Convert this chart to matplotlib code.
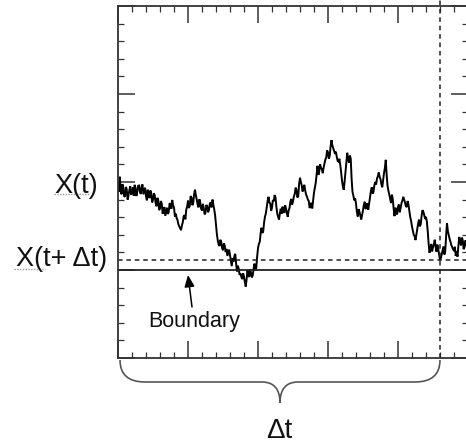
import numpy as np
import matplotlib
matplotlib.use("Agg")
import matplotlib.pyplot as plt
from matplotlib.path import Path
from matplotlib.patches import PathPatch
from matplotlib.ticker import MultipleLocator, NullFormatter

plt.rcParams['font.family'] = ['Liberation Sans', 'DejaVu Sans']

# ---- data ----
# time index (arbitrary units), quarter-unit steps
t_step = 0.25
trace = [
    49.0, 47.2, 51.5, 48.0, 46.5, 49.4, 48.5, 46.0, 45.8, 48.6, 47.9, 45.0, 46.2, 47.7, 48.8, 46.4, 47.0, 48.5, 46.1, 49.2,
    48.3, 46.0, 47.2, 48.9, 49.0, 47.3, 46.6, 48.8, 49.3, 46.5, 47.5, 48.4, 46.0, 44.8, 47.8, 46.3, 45.4, 47.6, 46.8, 44.2,
    44.9, 46.8, 46.2, 44.0, 43.1, 45.5, 44.8, 42.0, 42.5, 44.6, 43.9, 41.0, 41.8, 42.9, 40.4, 41.6, 42.7, 40.9, 41.5, 44.0,
    43.6, 42.4, 44.9, 43.3, 42.8, 40.2, 41.0, 39.8, 39.2, 38.0, 37.4, 36.9, 36.3, 37.6, 38.5, 40.2, 40.6, 39.4, 42.1, 43.0,
    44.7, 42.6, 43.2, 46.0, 45.6, 43.4, 44.1, 46.5, 47.8, 46.2, 45.0, 43.6, 42.8, 45.1, 44.2, 42.4, 41.9, 43.8, 42.6, 40.8,
    41.3, 43.5, 43.0, 41.4, 42.1, 43.9, 44.2, 42.8, 45.0, 43.5, 42.2, 40.5, 38.0, 35.2, 33.4, 32.3, 31.8, 33.6, 32.9, 31.2,
    30.6, 32.6, 31.9, 30.1, 31.0, 29.0, 29.9, 30.8, 29.2, 27.4, 26.1, 28.3, 27.4, 28.9, 29.6, 26.8, 24.6, 26.2, 25.3, 23.6,
    24.0, 23.0, 22.4, 24.1, 23.1, 21.5, 20.3, 22.4, 24.9, 23.6, 23.0, 25.1, 24.2, 22.9, 23.5, 25.4, 26.8, 25.0, 25.6, 28.7,
    31.2, 32.4, 33.0, 35.4, 37.0, 35.5, 36.1, 38.6, 40.2, 41.1, 42.8, 44.6, 45.8, 44.2, 43.9, 41.8, 42.7, 44.9, 44.5, 46.3,
    45.6, 43.0, 41.0, 40.2, 39.3, 41.1, 42.4, 41.0, 43.0, 42.3, 41.2, 43.4, 42.5, 41.1, 40.1, 41.9, 42.6, 44.4, 45.2, 43.6,
    44.5, 45.9, 46.6, 48.4, 47.7, 45.6, 46.0, 49.5, 51.2, 50.0, 49.0, 47.3, 48.6, 49.2, 47.5, 46.4, 45.8, 45.0, 44.6, 42.6,
    43.2, 44.1, 42.5, 44.8, 47.0, 48.4, 49.8, 52.2, 54.6, 52.0, 53.1, 55.0, 54.0, 53.6, 52.5, 54.1, 55.2, 56.4, 57.0, 59.0,
    58.4, 56.6, 57.5, 60.2, 61.9, 60.4, 59.6, 58.9, 58.0, 58.6, 57.2, 56.0, 55.8, 56.6, 54.9, 52.8, 50.4, 48.7, 47.8, 50.2,
    53.0, 56.1, 58.3, 56.4, 55.5, 57.5, 56.6, 50.8, 47.2, 46.1, 44.8, 45.4, 43.9, 41.5, 40.2, 42.3, 41.5, 40.4, 39.3, 40.6,
    42.0, 43.5, 44.4, 42.3, 43.0, 44.0, 42.1, 43.8, 45.6, 47.4, 48.5, 46.7, 47.2, 49.1, 50.0, 49.3, 51.0, 51.6, 52.7, 51.5,
    50.8, 49.4, 48.5, 50.6, 52.5, 54.0, 56.3, 52.2, 49.0, 47.6, 46.5, 45.3, 44.0, 46.4, 45.2, 42.5, 40.3, 42.7, 41.6, 40.8,
    42.9, 43.6, 41.4, 42.6, 44.0, 44.7, 45.8, 45.0, 44.2, 43.1, 42.9, 44.6, 43.5, 41.8, 40.0, 38.9, 37.3, 36.1, 35.0, 34.6,
    33.5, 35.1, 36.6, 38.2, 39.3, 37.4, 38.0, 40.4, 42.0, 41.5, 40.6, 39.5, 40.1, 38.7, 36.0, 32.5, 29.9, 31.0, 32.4, 30.3,
    31.5, 32.3, 33.6, 31.6, 30.2, 32.2, 31.0, 29.3, 27.8, 28.4, 29.5, 30.6, 31.7, 29.4, 30.4, 34.8, 38.3, 36.0, 34.9, 33.8,
    33.0, 32.0, 31.5, 30.9, 30.4, 31.6, 29.0, 30.3, 28.8, 31.8, 34.4, 33.0, 32.0, 34.2, 33.5, 30.9, 31.5, 33.4, 32.8, 31.3,
]
t = np.arange(len(trace)) * t_step

x_t_level = 50.0          # X(t)
boundary_level = 25.0     # boundary
t_end = 92.0              # t + Δt
x_end_level = 27.8        # X(t+Δt)

x_limits = (0, 100)
y_limits = (0, 100)

labels_y = ["X(t)", "X(t+ Δt)"]
boundary_label = "Boundary"
delta_label = "Δt"

# ---- figure ----
W, H = 466, 446
fig = plt.figure(figsize=(W / 100, H / 100), dpi=100)
ax = fig.add_axes([118 / W, 1 - 358 / H, 350 / W, 352 / H])

def fx(px):
    return px / W

def fy(py):
    return 1 - py / H

ax.plot(t, trace, color='black', lw=1.4, solid_joinstyle='miter')
ax.axhline(boundary_level, color='#222222', lw=1.3)
ax.axhline(x_end_level, color='#222222', lw=1.1, ls=(0, (3, 2.5)))
ax.axvline(t_end, ymin=0, ymax=1.025, color='#222222', lw=1.1,
           ls=(0, (3, 2.5)), clip_on=False)

ax.set_xlim(*x_limits)
ax.set_ylim(*y_limits)
ax.xaxis.set_major_locator(MultipleLocator(20))
ax.xaxis.set_minor_locator(MultipleLocator(4))
ax.yaxis.set_major_locator(MultipleLocator(25))
ax.yaxis.set_minor_locator(MultipleLocator(5))
ax.xaxis.set_major_formatter(NullFormatter())
ax.yaxis.set_major_formatter(NullFormatter())
ax.tick_params(which='both', direction='in', top=True, right=True,
               color='#333333')
ax.tick_params(which='major', length=12, width=1.1)
ax.tick_params(which='minor', length=4.5, width=0.9)
for s in ax.spines.values():
    s.set_color('#333333')
    s.set_linewidth(1.3)

# y labels
fig.text(fx(98), fy(186), labels_y[0], ha='right', va='center',
         fontsize=19.5, color='#111111')
fig.text(fx(107), fy(259), labels_y[1], ha='right', va='center',
         fontsize=19.5, color='#111111')
# faint spell-check squiggles
fig.add_artist(plt.Line2D([fx(54), fx(90)], [fy(194), fy(194)],
                          color='#9a9a9a', lw=1.0, ls=(0, (1, 1))))
fig.add_artist(plt.Line2D([fx(14), fx(45)], [fy(269), fy(269)],
                          color='#9a9a9a', lw=1.0, ls=(0, (1, 1))))

# Boundary annotation
fig.text(fx(194), fy(327), boundary_label, ha='center', va='baseline',
         fontsize=15.5, color='#111111')
ax.annotate('', xy=(fx(188), fy(275)), xycoords='figure fraction',
            xytext=(fx(192), fy(307)), textcoords='figure fraction',
            arrowprops=dict(arrowstyle='-|>,head_length=0.7,head_width=0.3',
                            color='black', lw=1.1, shrinkA=0, shrinkB=0))

# brace under the axis
pts = [(120, 360), (120, 382), (145, 382),
       (262, 382),
       (280, 382), (280, 403),
       (280, 382), (298, 382),
       (415, 382),
       (440, 382), (440, 360)]
codes = [Path.MOVETO, Path.CURVE3, Path.CURVE3,
         Path.LINETO,
         Path.CURVE3, Path.CURVE3,
         Path.CURVE3, Path.CURVE3,
         Path.LINETO,
         Path.CURVE3, Path.CURVE3]
verts = [(fx(a), fy(b)) for a, b in pts]
brace = PathPatch(Path(verts, codes), transform=fig.transFigure,
                  fill=False, edgecolor='#555555', lw=1.2)
fig.add_artist(brace)

fig.text(fx(279), fy(431), delta_label, ha='center', va='center',
         fontsize=20, color='#111111')

fig.savefig('out.png', dpi=100)
